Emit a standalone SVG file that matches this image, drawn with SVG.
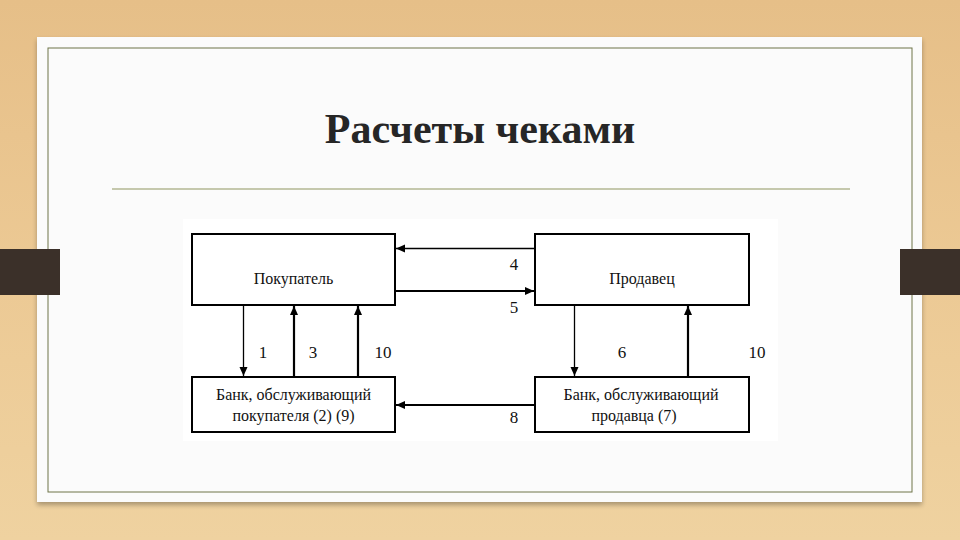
<svg xmlns="http://www.w3.org/2000/svg" width="960" height="540" viewBox="0 0 960 540">
<defs>
<linearGradient id="wood" x1="0" y1="0" x2="0" y2="1">
<stop offset="0" stop-color="#e6bf88"/>
<stop offset="0.5" stop-color="#ecc994"/>
<stop offset="1" stop-color="#efd2a0"/>
</linearGradient>
<filter id="sh" x="-5%" y="-5%" width="110%" height="115%">
<feGaussianBlur in="SourceAlpha" stdDeviation="2.5"/>
<feOffset dx="0" dy="3"/>
<feComponentTransfer><feFuncA type="linear" slope="0.3"/></feComponentTransfer>
<feMerge><feMergeNode/><feMergeNode in="SourceGraphic"/></feMerge>
</filter>
<marker id="ah" markerWidth="10" markerHeight="10" refX="9" refY="5" orient="auto" markerUnits="userSpaceOnUse">
<path d="M0,1 L9,5 L0,9 Z" fill="#000"/>
</marker>
<style>
.box{fill:#fff;stroke:#000;stroke-width:2}
.lbl{font-family:"Liberation Serif","Times New Roman",serif;font-size:16px;fill:#111;text-anchor:middle}
.num{font-family:"Liberation Serif","Times New Roman",serif;font-size:17px;fill:#111;text-anchor:middle}
.thin{stroke:#000;stroke-width:1.3;fill:none}
.thick{stroke:#000;stroke-width:2.2;fill:none}
</style>
</defs>
<rect x="0" y="0" width="960" height="540" fill="url(#wood)"/>
<rect x="37" y="37" width="885" height="465" fill="#fbfbfb" filter="url(#sh)"/>
<rect x="48" y="48" width="864" height="444" fill="none" stroke="#6f7548" stroke-width="1"/>
<rect x="0" y="249" width="60" height="46" fill="#3b3029"/>
<rect x="900" y="249" width="60" height="46" fill="#3b3029"/>
<text x="480" y="143" font-family="'Liberation Serif','Times New Roman',serif" font-weight="bold" font-size="42" fill="#262626" text-anchor="middle">Расчеты чеками</text>
<line x1="112" y1="189" x2="850" y2="189" stroke="#8f9660" stroke-width="1.2"/>
<rect x="183" y="219" width="595" height="222" fill="#ffffff"/>

<g id="buyer">
<rect class="box" x="192" y="234" width="203" height="71"/>
<text class="lbl" x="293.5" y="284">Покупатель</text>
</g>
<g id="seller">
<rect class="box" x="535" y="234" width="214" height="71"/>
<text class="lbl" x="642" y="284">Продавец</text>
</g>
<g id="buyer-bank">
<rect class="box" x="192" y="377" width="203" height="55"/>
<text class="lbl" x="293.5" y="400">Банк, обслуживающий</text>
<text class="lbl" x="293.5" y="421">покупателя (2) (9)</text>
</g>
<g id="seller-bank">
<rect class="box" x="535" y="377" width="214" height="55"/>
<text class="lbl" x="641" y="400">Банк, обслуживающий</text>
<text class="lbl" x="634" y="421">продавца (7)</text>
</g>

<g id="connectors">
<line class="thin" x1="535" y1="248.5" x2="396" y2="248.5" marker-end="url(#ah)"/>
<line class="thick" x1="395" y1="291" x2="534" y2="291" marker-end="url(#ah)"/>
<line class="thick" x1="535" y1="405" x2="396" y2="405" marker-end="url(#ah)"/>
<line class="thin" x1="243.5" y1="305" x2="243.5" y2="376" marker-end="url(#ah)"/>
<line class="thick" x1="294" y1="377" x2="294" y2="306" marker-end="url(#ah)"/>
<line class="thick" x1="358" y1="377" x2="358" y2="306" marker-end="url(#ah)"/>
<line class="thin" x1="574.5" y1="305" x2="574.5" y2="376" marker-end="url(#ah)"/>
<line class="thick" x1="688" y1="377" x2="688" y2="306" marker-end="url(#ah)"/>
<text class="num" x="514" y="270">4</text>
<text class="num" x="514" y="313">5</text>
<text class="num" x="514" y="423">8</text>
<text class="num" x="263" y="358">1</text>
<text class="num" x="313" y="358">3</text>
<text class="num" x="383" y="358">10</text>
<text class="num" x="622" y="358">6</text>
<text class="num" x="757" y="358">10</text>
</g>
</svg>
